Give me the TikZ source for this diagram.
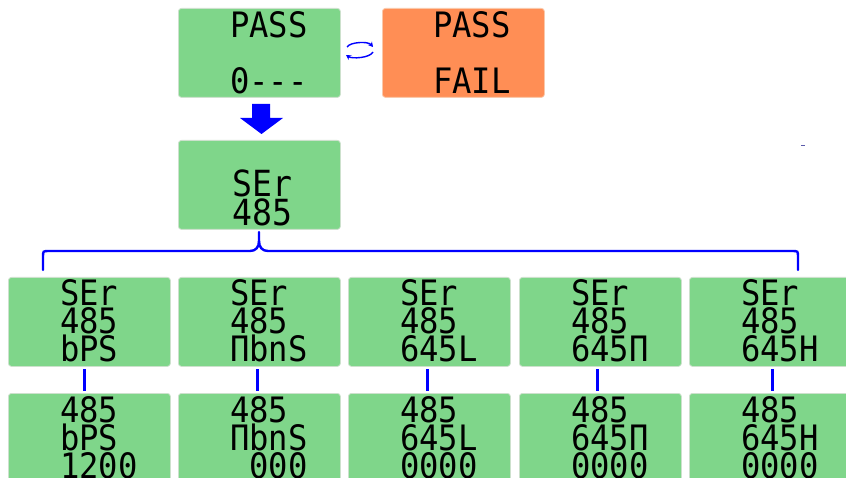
\documentclass[tikz,border=0pt]{standalone}
\usepackage{fontspec}
\newfontfamily\lcd{DejaVu Sans Mono}[FakeStretch=0.92]
\usetikzlibrary{arrows.meta}
\definecolor{lcdgreen}{RGB}{127,214,138}
\definecolor{lcdorange}{RGB}{255,142,85}
\definecolor{lcdedge}{RGB}{205,225,205}
\definecolor{orangeedge}{RGB}{250,200,170}
\begin{document}
\begin{tikzpicture}[x=1pt,y=-1pt,
  panel/.style={draw=lcdedge, line width=0.8pt, fill=lcdgreen, rounded corners=3pt,
    minimum width=162pt, minimum height=89pt, anchor=north west, inner sep=0pt},
  lcdtext/.style={anchor=north west, inner sep=0pt, align=left,
    font=\lcd\fontsize{35}{28}\selectfont},
  link/.style={draw=blue, line width=2.4pt},
  swap/.style={draw=blue, line width=1.4pt, -{Stealth[length=5pt,width=5.5pt]}}]
\useasboundingbox (0,0) rectangle (846,478);
\clip (0,0) rectangle (846,478);

% top row
\node[panel] (pass) at (178,8) {};
\node[panel, fill=lcdorange, draw=orangeedge] (fail) at (382,8) {};
\node[lcdtext] (passT) at (230,11) {PASS\\[28pt]0---};
\node[lcdtext] (failT) at (433,11) {PASS\\[28pt]FAIL};

% swap arrows
\coordinate (sa1) at (347,47);
\coordinate (sa2) at (373,47);
\coordinate (sb1) at (373,52);
\coordinate (sb2) at (346,55);
\draw[swap] (sa1) .. controls (350,42) and (368,41) .. (sa2);
\draw[swap] (sb1) .. controls (370,58) and (352,59) .. (sb2);

% big down arrow
\fill[blue] (252,104) -- (270,104) -- (270,118) -- (283,118) -- (261.5,134)
  -- (240,118) -- (252,118) -- cycle;

% SEr 485
\node[panel] (ser) at (178,140) {};
\node[lcdtext, font=\lcd\fontsize{36}{27}\selectfont] (serT) at (232,170) {SEr\\485};

% brace
\coordinate (bt) at (259,232);
\draw[link, line cap=round] (43,270) -- (43,257) .. controls (43,251) .. (49,251) -- (250,251)
  .. controls (256,251) and (259,247) .. (259,241) -- (bt);
\draw[link, line cap=round] (798,270) -- (798,257) .. controls (798,251) .. (792,251) -- (268,251)
  .. controls (262,251) and (259,247) .. (259,241);

% row 1
\node[panel] (t1) at (8,277) {};
\node[panel] (t2) at (178,277) {};
\node[panel] (t3) at (348,277) {};
\node[panel] (t4) at (519,277) {};
\node[panel] (t5) at (689,277) {};
\node[lcdtext] at (60,279) {SEr\\485\\bPS};
\node[lcdtext] at (230,279) {SEr\\485\\ΠbnS};
\node[lcdtext] at (400,279) {SEr\\485\\645L};
\node[lcdtext] at (571,279) {SEr\\485\\645Π};
\node[lcdtext] at (741,279) {SEr\\485\\645H};

% row 2
\node[panel] (b1) at (8,393) {};
\node[panel] (b2) at (178,393) {};
\node[panel] (b3) at (348,393) {};
\node[panel] (b4) at (519,393) {};
\node[panel] (b5) at (689,393) {};
\node[lcdtext] at (60,396) {485\\bPS\\1200};
\node[lcdtext] at (230,396) {485\\ΠbnS\\\phantom{0}000};
\node[lcdtext] at (400,396) {485\\645L\\0000};
\node[lcdtext] at (571,396) {485\\645Π\\0000};
\node[lcdtext] at (741,396) {485\\645H\\0000};

% connectors
\foreach \i/\dx in {1/-5,2/-2,3/-2,4/-3,5/2}
  \draw[link, shorten <=2.5pt, shorten >=2pt] ([xshift=\dx pt]t\i.south) -- ([xshift=\dx pt]b\i.north);

% stray mark
\draw[draw={rgb,255:red,90;green,90;blue,170}, line width=0.8pt] (801,145) -- (805,145);
\end{tikzpicture}
\end{document}
